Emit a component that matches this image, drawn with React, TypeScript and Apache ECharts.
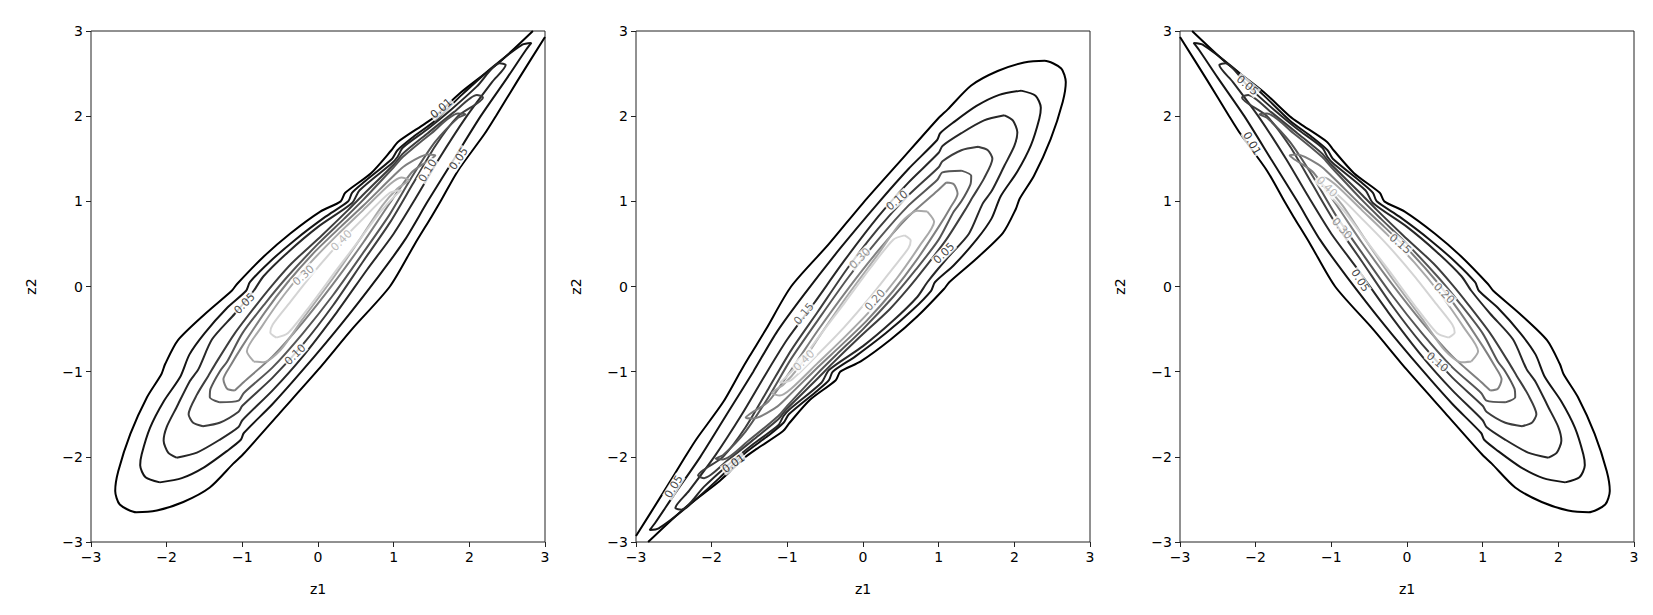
import React, { useEffect, useRef } from "react";
import * as echarts from "echarts";

// Contour levels and their grey shades (dark = low level)
const LEVELS = ["0.01", "0.05", "0.10", "0.15", "0.20", "0.30", "0.40", "0.50"];
const LEVEL_COLORS = ["#000000", "#141414", "#272727", "#3d3d3d", "#555555", "#7f7f7f", "#a9a9a9", "#d4d4d4"];
const TICKS = [-3, -2, -1, 0, 1, 2, 3];

// Panel 1 contour lines (z1, z2)
const P1_L01 = [[3.0,2.93],[2.64,2.42],[2.35,2.0],[2.2,1.79],[1.85,1.36],[1.62,1.0],[1.5,0.82],[1.28,0.5],[0.95,0.0],[0.45,-0.5],[0.0,-0.98],[-0.5,-1.48],[-0.99,-1.97],[-1.12,-2.08],[-1.43,-2.36],[-1.78,-2.53],[-2.13,-2.63],[-2.4,-2.65],[-2.62,-2.56],[-2.68,-2.4],[-2.64,-2.17],[-2.48,-1.73],[-2.26,-1.3],[-2.07,-1.03],[-2.02,-0.91],[-1.85,-0.63],[-1.49,-0.32],[-1.14,-0.05],[-1.07,0.03],[-0.72,0.35],[-0.37,0.62],[0.03,0.88],[0.3,1.0],[0.36,1.1],[0.7,1.33],[0.97,1.6],[1.06,1.7],[1.41,1.91],[1.55,2.0],[1.89,2.28],[2.38,2.62],[2.84,3.0]];
const P1_L05 = [[-2.09,-2.3],[-1.8,-2.25],[-1.5,-2.12],[-1.2,-1.93],[-1.02,-1.8],[-0.98,-1.72],[-0.6,-1.38],[-0.2,-0.98],[0.3,-0.45],[0.8,0.12],[1.15,0.55],[1.45,1.0],[1.8,1.5],[2.15,2.0],[2.5,2.45],[2.75,2.78],[2.82,2.86],[2.7,2.84],[2.3,2.57],[1.9,2.25],[1.55,1.95],[1.25,1.75],[1.05,1.6],[0.98,1.5],[0.6,1.22],[0.45,1.1],[0.4,1.0],[0.1,0.82],[-0.3,0.55],[-0.65,0.28],[-0.9,0.05],[-0.95,-0.05],[-1.2,-0.25],[-1.5,-0.55],[-1.7,-0.8],[-1.82,-1.06],[-2.04,-1.35],[-2.22,-1.66],[-2.33,-1.97],[-2.35,-2.1],[-2.28,-2.24],[-2.09,-2.3]];
const P1_L10 = [[-1.87,-2.01],[-1.6,-1.95],[-1.3,-1.8],[-1.05,-1.65],[-1.0,-1.57],[-0.6,-1.22],[-0.2,-0.82],[0.25,-0.3],[0.65,0.2],[1.0,0.62],[1.3,1.05],[1.6,1.5],[1.95,1.98],[2.3,2.4],[2.48,2.6],[2.4,2.62],[2.1,2.35],[1.75,2.07],[1.45,1.85],[1.12,1.63],[1.05,1.52],[0.98,1.45],[0.55,1.13],[0.45,0.98],[0.0,0.7],[-0.4,0.4],[-0.72,0.12],[-0.85,-0.05],[-1.1,-0.32],[-1.4,-0.62],[-1.58,-0.97],[-1.7,-1.12],[-1.87,-1.42],[-2.0,-1.65],[-2.04,-1.81],[-1.98,-1.95],[-1.87,-2.01]];
const P1_L15 = [[-1.52,-1.64],[-1.3,-1.6],[-1.05,-1.47],[-1.0,-1.4],[-0.6,-1.07],[-0.2,-0.68],[0.2,-0.22],[0.6,0.3],[0.95,0.75],[1.25,1.2],[1.55,1.65],[1.85,2.0],[2.18,2.22],[2.1,2.25],[1.8,2.05],[1.45,1.8],[1.12,1.56],[1.02,1.45],[0.6,1.08],[0.4,0.9],[0.05,0.6],[-0.35,0.27],[-0.6,0.02],[-0.8,-0.2],[-1.1,-0.55],[-1.35,-0.9],[-1.45,-1.05],[-1.6,-1.27],[-1.71,-1.5],[-1.65,-1.6],[-1.52,-1.64]];
const P1_L20 = [[-1.3,-1.36],[-1.05,-1.34],[-0.98,-1.25],[-0.6,-0.95],[-0.2,-0.55],[0.2,-0.1],[0.6,0.4],[0.95,0.85],[1.25,1.3],[1.55,1.7],[1.85,1.98],[1.95,2.02],[1.85,2.03],[1.5,1.8],[1.12,1.52],[1.0,1.4],[0.6,1.02],[0.35,0.8],[0.0,0.5],[-0.4,0.12],[-0.7,-0.2],[-1.0,-0.55],[-1.2,-0.88],[-1.3,-1.0],[-1.42,-1.2],[-1.43,-1.3],[-1.3,-1.36]];
const P1_L30 = [[-1.1,-1.22],[-0.98,-1.12],[-0.6,-0.82],[-0.2,-0.42],[0.2,0.03],[0.6,0.52],[0.95,0.98],[1.25,1.35],[1.5,1.5],[1.55,1.54],[1.45,1.55],[1.15,1.42],[1.0,1.3],[0.6,0.95],[0.3,0.7],[-0.05,0.4],[-0.4,0.05],[-0.7,-0.3],[-1.0,-0.7],[-1.15,-0.92],[-1.25,-1.09],[-1.2,-1.2],[-1.1,-1.22]];
const P1_L40 = [[-0.85,-0.88],[-0.72,-0.89],[-0.5,-0.75],[-0.2,-0.38],[0.2,0.1],[0.55,0.55],[0.85,0.95],[1.05,1.15],[1.2,1.25],[1.1,1.28],[0.95,1.2],[0.6,0.9],[0.25,0.6],[-0.1,0.28],[-0.45,-0.1],[-0.75,-0.48],[-0.94,-0.76],[-0.85,-0.88]];
const P1_L50 = [[-0.55,-0.6],[-0.4,-0.55],[-0.1,-0.22],[0.25,0.2],[0.55,0.55],[0.8,0.85],[1.0,1.05],[1.1,1.13],[0.95,1.1],[0.6,0.8],[0.25,0.48],[-0.1,0.12],[-0.4,-0.22],[-0.6,-0.45],[-0.63,-0.54],[-0.55,-0.6]];
const P1_LINES = [P1_L01, P1_L05, P1_L10, P1_L15, P1_L20, P1_L30, P1_L40, P1_L50];

// Inline contour labels: [z1, z2, level index, rotation]
const P1_LABELS = [[1.63,2.09,0,40],[1.86,1.5,1,56],[1.45,1.36,2,58],[-0.97,-0.2,1,45],[-0.3,-0.8,2,45],[-0.19,0.13,5,42],[0.31,0.54,6,45]];
const P2_LABELS = [[0.45,1.01,2,40],[1.07,0.39,1,45],[-0.04,0.33,5,45],[0.16,-0.16,4,48],[-1.71,-2.08,0,35],[-2.5,-2.35,1,58],[-0.78,-0.87,6,45],[-0.78,-0.32,3,50]];
const P3_LABELS = [[-2.11,2.36,1,-40],[-2.05,1.68,0,-60],[-1.06,1.17,6,-45],[-0.86,0.68,5,-48],[-0.09,0.5,3,-40],[-0.62,0.07,1,-58],[0.49,-0.08,4,-45],[0.4,-0.89,2,-40]];

// Panels 2 and 3 show the same contours point-reflected / mirrored
const PANEL_SIGNS = [[1, 1], [-1, -1], [-1, 1]];
const PANEL_LABELS = [P1_LABELS, P2_LABELS, P3_LABELS];

const FONT = "DejaVu Sans";
const fmt = (v: number) => (v < 0 ? "\u2212" + Math.abs(v) : String(v));

export default function App() {
  const ref = useRef<HTMLDivElement>(null);
  useEffect(() => {
    const chart = echarts.init(ref.current!, null, { renderer: "svg" });
    const lefts = [91, 636, 1180];
    const grids = lefts.map((l) => ({ left: l, top: 31, width: 454, height: 511, show: true, borderColor: "#222", borderWidth: 1, backgroundColor: "transparent" }));
    const axisCommon = {
      type: "value", min: -3, max: 3, interval: 1,
      nameLocation: "middle",
      nameTextStyle: { fontFamily: FONT, fontSize: 14, color: "#000" },
      axisLine: { show: false, onZero: false },
      axisTick: { show: true, inside: false, length: 5, lineStyle: { color: "#222" } },
      axisLabel: { formatter: fmt, fontFamily: FONT, fontSize: 14, color: "#000", margin: 8 },
      splitLine: { show: false },
    };
    const xAxes = lefts.map((_, i) => ({ ...axisCommon, gridIndex: i, name: "z1", nameGap: 40 }));
    const yAxes = lefts.map((_, i) => ({ ...axisCommon, gridIndex: i, name: "z2", nameGap: 53, nameRotate: 90 }));
    const series: any[] = [];
    PANEL_SIGNS.forEach(([sx, sy], p) => {
      P1_LINES.forEach((line, k) => {
        series.push({
          type: "line", xAxisIndex: p, yAxisIndex: p, silent: true,
          data: line.map(([a, b]) => [sx * a, sy * b]),
          showSymbol: false, symbol: "none", smooth: 0.25, clip: true,
          lineStyle: { color: LEVEL_COLORS[k], width: 2 }, z: 2,
        });
      });
      series.push({
        type: "scatter", xAxisIndex: p, yAxisIndex: p, silent: true, symbolSize: 0, z: 5,
        data: PANEL_LABELS[p].map(([a, b, k, r]) => ({
          value: [a, b],
          label: { show: true, position: "inside", formatter: LEVELS[k], rotate: r, color: LEVEL_COLORS[k], fontFamily: FONT, fontSize: 11, backgroundColor: "#fff", padding: [0, 1] },
        })),
      });
    });
    chart.setOption({ animation: false, backgroundColor: "#fff", grid: grids, xAxis: xAxes, yAxis: yAxes, series });
    return () => chart.dispose();
  }, []);
  return <div ref={ref} style={{ position: "fixed", left: 0, top: 0, width: 1653, height: 615 }} />;
}
